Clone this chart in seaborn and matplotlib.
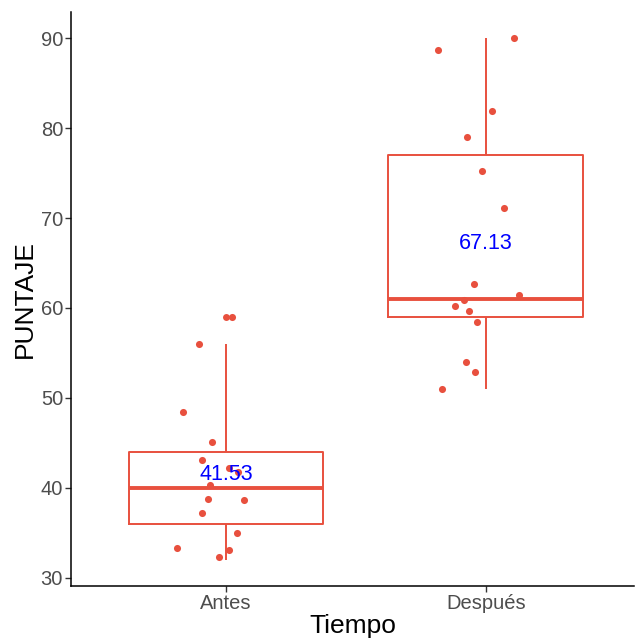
import pandas as pd
import numpy as np
import matplotlib
matplotlib.use("Agg")
import matplotlib.pyplot as plt
import seaborn as sns

# Scores per group (integers behind the boxes)
tiempos = ["Antes", "Después"]
antes = [59, 56, 48, 45, 43, 42, 42, 40, 39, 39, 37, 35, 33, 33, 32]
despues = [90, 89, 82, 79, 75, 71, 63, 61, 61, 60, 60, 58, 54, 53, 51]

# Jittered points (value, horizontal offset)
antes_jy = [59.04, 55.96, 48.4, 45.15, 43.1, 42.2, 41.8, 40.33, 38.8, 38.67, 37.2, 34.96, 33.3, 33.1, 32.3]
antes_dx = [0.024, -0.103, -0.167, -0.055, -0.091, 0.013, 0.047, -0.062, -0.070, 0.070, -0.092, 0.043, -0.187, 0.013, -0.028]
despues_jy = [89.96, 88.67, 81.9, 79.0, 75.26, 71.07, 62.67, 61.4, 60.9, 60.26, 59.67, 58.4, 54.03, 52.85, 50.97]
despues_dx = [0.108, -0.185, 0.023, -0.071, -0.013, 0.071, -0.044, 0.127, -0.084, -0.117, -0.063, -0.035, -0.076, -0.040, -0.168]

df = pd.DataFrame({
    "Tiempo": [tiempos[0]] * len(antes) + [tiempos[1]] * len(despues),
    "PUNTAJE": antes + despues,
})
jit = pd.DataFrame({
    "x": [0 + d for d in antes_dx] + [1 + d for d in despues_dx],
    "y": antes_jy + despues_jy,
})

col = "#E8503E"
sns.set_style("white")
plt.rcParams["font.family"] = ["Liberation Sans", "DejaVu Sans"]

fig = plt.figure(figsize=(6.35, 6.41), dpi=100)
ax = fig.add_axes([70.7 / 635, 55 / 641, (634 - 70.7) / 635, (586 - 12) / 641])

sns.boxplot(data=df, x="Tiempo", y="PUNTAJE", order=tiempos, fill=False, color=col,
            width=0.75, linewidth=1.4, showcaps=False, whis=1.5,
            medianprops=dict(linewidth=2.8, color=col),
            flierprops=dict(marker="o", markersize=5, markerfacecolor=col,
                            markeredgecolor=col, markeredgewidth=0),
            ax=ax)
ax.scatter(jit["x"], jit["y"], s=26, color=col, linewidths=0, zorder=5)

# mean labels
for i, vals in enumerate([antes, despues]):
    m = np.mean(vals)
    ax.text(i, m, f"{m:.2f}", color="blue", fontsize=15.5, ha="center", va="center", zorder=6)

ax.set_xlim(-0.598, 1.571)
ax.set_ylim(29.11, 92.89)
ax.set_yticks([30, 40, 50, 60, 70, 80, 90])
ax.set_xlabel("Tiempo", fontsize=19, color="black", labelpad=1)
ax.set_ylabel("PUNTAJE", fontsize=19, color="black", labelpad=3)
ax.tick_params(axis="both", labelsize=14.5, labelcolor="#4D4D4D", color="#333333",
               length=4, width=1.0, pad=1.5, left=True, bottom=True)
for s in ["top", "right"]:
    ax.spines[s].set_visible(False)
for s in ["left", "bottom"]:
    ax.spines[s].set_color("black")
    ax.spines[s].set_linewidth(1.1)

fig.savefig("out.png", dpi=100)
